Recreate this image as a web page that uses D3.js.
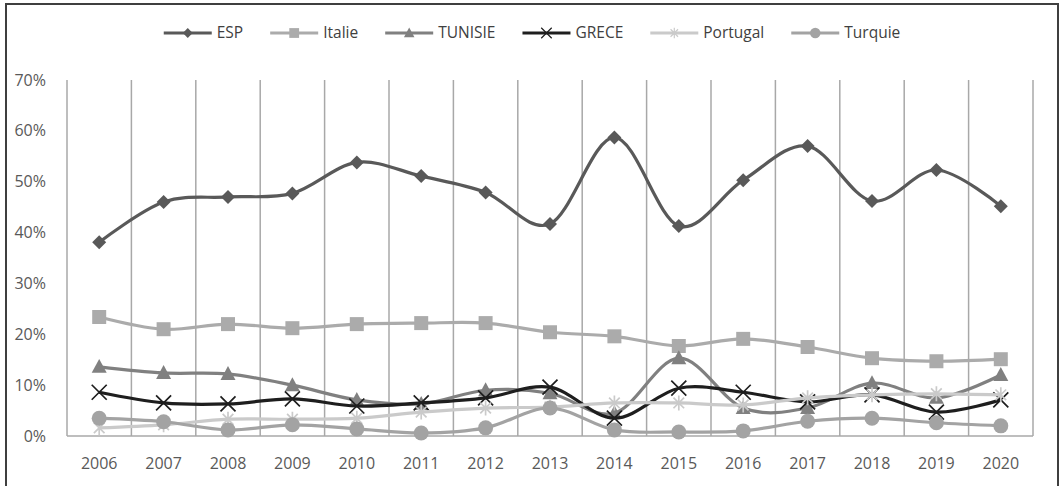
<!DOCTYPE html>
<html>
<head>
<meta charset="utf-8">
<script src="https://cdn.jsdelivr.net/npm/d3@7"></script>
<style>
  html, body { margin: 0; padding: 0; background: #fff; }
  svg { display: block; }
</style>
</head>
<body>
<div id="chart"></div>
<script>
// Données
const years = ["2006","2007","2008","2009","2010","2011","2012","2013","2014","2015","2016","2017","2018","2019","2020"];
const espValues      = [38.1, 46.0, 47.0, 47.7, 53.8, 51.1, 47.9, 41.7, 58.7, 41.3, 50.3, 57.0, 46.2, 52.3, 45.2];
const italieValues   = [23.4, 21.0, 22.0, 21.2, 22.0, 22.2, 22.2, 20.4, 19.6, 17.7, 19.1, 17.5, 15.3, 14.7, 15.1];
const tunisieValues  = [13.6, 12.4, 12.2, 10.0, 7.1, 6.3, 9.0, 8.4, 4.5, 15.3, 5.5, 5.5, 10.4, 7.5, 12.0];
const greceValues    = [8.6, 6.5, 6.3, 7.3, 5.9, 6.5, 7.5, 9.6, 3.5, 9.4, 8.6, 6.7, 8.1, 4.7, 7.1];
const portugalValues = [1.6, 2.2, 3.3, 3.3, 3.5, 4.7, 5.5, 5.7, 6.5, 6.5, 6.1, 7.5, 8.1, 8.3, 8.1];
const turquieValues  = [3.5, 2.8, 1.2, 2.2, 1.4, 0.6, 1.6, 5.5, 1.2, 0.8, 1.0, 2.9, 3.5, 2.6, 2.0];
const yTicks = [0, 0.1, 0.2, 0.3, 0.4, 0.5, 0.6, 0.7];

const series = [
    { name: "ESP",      values: espValues,      color: "#595959", marker: "diamond" },
    { name: "Italie",   values: italieValues,   color: "#ABABAB", marker: "square" },
    { name: "TUNISIE",  values: tunisieValues,  color: "#808080", marker: "triangle" },
    { name: "GRECE",    values: greceValues,    color: "#1E1E1E", marker: "x" },
    { name: "Portugal", values: portugalValues, color: "#CACACA", marker: "star" },
    { name: "Turquie",  values: turquieValues,  color: "#A3A3A3", marker: "circle" }
];

const width = 1063, height = 486;
const margin = { top: 80, right: 30, bottom: 50, left: 67 };
const font = "'Open Sans', 'Noto Sans', sans-serif";

const svg = d3.select("#chart").append("svg")
    .attr("width", width)
    .attr("height", height)
    .style("font-family", font);

// Cadre extérieur
svg.append("rect")
    .attr("x", 6).attr("y", 4)
    .attr("width", 1052).attr("height", height + 10)
    .attr("fill", "none")
    .attr("stroke", "#3f3f3f")
    .attr("stroke-width", 2);

const x = d3.scaleBand()
    .domain(years)
    .range([margin.left, width - margin.right])
    .padding(0);

const y = d3.scaleLinear()
    .domain([0, 0.7])
    .range([height - margin.bottom, margin.top]);

// Lignes verticales entre catégories
const edges = years.map(d => x(d)).concat([x(years[years.length - 1]) + x.bandwidth()]);
svg.append("g")
    .selectAll("line")
    .data(edges)
    .join("line")
    .attr("x1", d => d).attr("x2", d => d)
    .attr("y1", y(0.7)).attr("y2", y(0))
    .attr("stroke", "#A8A8A8")
    .attr("stroke-width", 1.5);

// Axe horizontal
svg.append("line")
    .attr("x1", margin.left).attr("x2", width - margin.right)
    .attr("y1", y(0)).attr("y2", y(0))
    .attr("stroke", "#A8A8A8")
    .attr("stroke-width", 1.5);

// Axe Y
const yAxis = svg.append("g")
    .attr("transform", `translate(${margin.left - 18}, 0)`)
    .call(d3.axisLeft(y).tickValues(yTicks).tickFormat(d3.format(".0%")).tickSize(0));
yAxis.select(".domain").remove();
yAxis.selectAll("text")
    .style("font-family", font)
    .style("font-size", "16px")
    .attr("fill", "#595959");

// Axe X
const xAxis = svg.append("g")
    .attr("transform", `translate(0, ${y(0) + 19})`)
    .call(d3.axisBottom(x).tickSize(0));
xAxis.select(".domain").remove();
xAxis.selectAll("text")
    .style("font-family", font)
    .style("font-size", "16px")
    .attr("fill", "#595959");

// Marqueurs
function markerPath(type, s) {
    const h = s / 2;
    switch (type) {
        case "diamond": return `M0,${-h}L${h},0L0,${h}L${-h},0Z`;
        case "square": return `M${-h},${-h}H${h}V${h}H${-h}Z`;
        case "triangle": return `M0,${-h * 1.05}L${h},${h * 0.8}L${-h},${h * 0.8}Z`;
        case "circle": return d3.symbol(d3.symbolCircle, Math.PI * h * h)();
        case "x": return `M${-h},${-h}L${h},${h}M${-h},${h}L${h},${-h}`;
        case "star": {
            const a = h * 0.71;
            return `M${-a},${-a}L${a},${a}M${-a},${a}L${a},${-a}M0,${-h}V${h}`;
        }
    }
}
const markerSize = { diamond: 14, square: 14, triangle: 15, circle: 15, x: 15, star: 15 };
function drawMarker(g, type, color) {
    const stroked = type === "x" || type === "star";
    g.append("path")
        .attr("d", markerPath(type, markerSize[type]))
        .attr("fill", stroked ? "none" : color)
        .attr("stroke", color)
        .attr("stroke-width", stroked ? 1.7 : 0);
}

const line = d3.line()
    .x((d, i) => x(years[i]) + x.bandwidth() / 2)
    .y(d => y(d / 100))
    .curve(d3.curveCatmullRom.alpha(0));

series.forEach(s => {
    const g = svg.append("g");
    g.append("path")
        .datum(s.values)
        .attr("d", line)
        .attr("fill", "none")
        .attr("stroke", s.color)
        .attr("stroke-width", 3.2);
    s.values.forEach((v, i) => {
        const m = g.append("g")
            .attr("transform", `translate(${x(years[i]) + x.bandwidth() / 2}, ${y(v / 100)})`);
        drawMarker(m, s.marker, s.color);
    });
});

// Légende
const legend = svg.append("g").attr("transform", "translate(0, 33)");
const lineLen = 48, textGap = 5, itemGap = 27;
const items = legend.selectAll("g")
    .data(series)
    .join("g");
items.append("line")
    .attr("x1", 0).attr("x2", lineLen)
    .attr("stroke", d => d.color)
    .attr("stroke-width", 3.2);
items.each(function (d) {
    const m = d3.select(this).append("g").attr("transform", `translate(${lineLen / 2}, 0)`);
    drawMarker(m, d.marker, d.color);
    m.select("path").attr("transform", "scale(0.7)");
});
items.append("text")
    .attr("x", lineLen + textGap)
    .attr("dy", "0.35em")
    .style("font-size", "15.5px")
    .attr("fill", "#404040")
    .text(d => d.name);
let cursor = 0;
const widths = [];
items.each(function () {
    const w = this.querySelector("text").getComputedTextLength();
    widths.push(lineLen + textGap + w);
});
const total = d3.sum(widths) + itemGap * (widths.length - 1);
cursor = 532 - total / 2;
items.attr("transform", (d, i) => {
    const t = `translate(${cursor}, 0)`;
    cursor += widths[i] + itemGap;
    return t;
});
</script>
</body>
</html>
